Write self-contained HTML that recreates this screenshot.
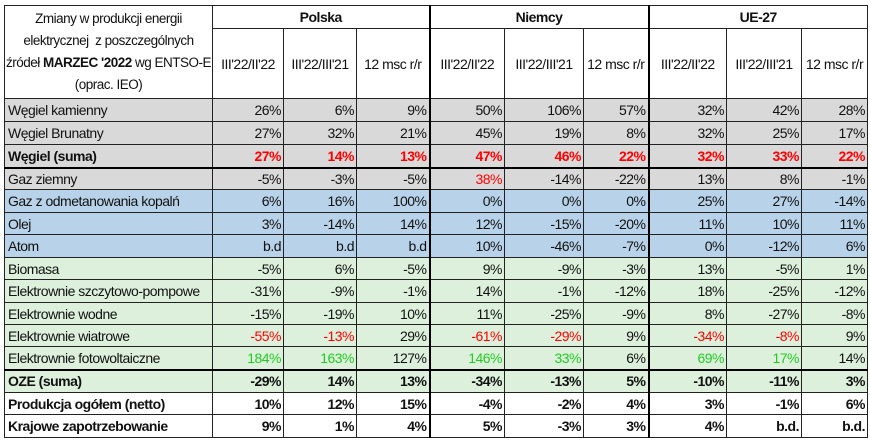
<!DOCTYPE html>
<html><head><meta charset="utf-8"><style>
html,body{margin:0;padding:0;background:#fff;width:870px;height:440px;overflow:hidden}
table{position:absolute;left:4px;top:5px;border-collapse:collapse;table-layout:fixed;font-family:"Liberation Sans",sans-serif;font-size:14px;color:#111}
td{border:1px solid #222;padding:0 2px;white-space:nowrap;overflow:hidden;text-align:right;letter-spacing:-0.5px;line-height:16px}
td.l{text-align:left;padding-left:3px}
.h td{text-align:center}
.g td{background:#d9d9d9}.b td{background:#b8d3e9}.e td{background:#ddf0dc}
.bold td{font-weight:bold}
.r{color:#f00}.gr{color:#22cc22}
.tk{border-left:2px solid #000}
.tb td{border-bottom:2px solid #000}
</style></head><body>
<table>
<colgroup><col style="width:208px"><col style="width:71px"><col style="width:73px"><col style="width:73px"><col style="width:75px"><col style="width:79px"><col style="width:65px"><col style="width:78px"><col style="width:75px"><col style="width:66px"></colgroup>
<tr class="h" style="height:23px"><td rowspan="2" style="text-align:center;line-height:22px;font-size:13.5px;white-space:nowrap;letter-spacing:-0.5px;padding:0">Zmiany w produkcji energii<br>elektrycznej&nbsp; z poszczególnych<br>źródeł <b>MARZEC '2022</b> wg ENTSO-E<br>(oprac. IEO)</td><td colspan="3" style="font-weight:bold">Polska</td><td colspan="3" class="tk" style="font-weight:bold">Niemcy</td><td colspan="3" class="tk" style="font-weight:bold">UE-27</td></tr>
<tr class="h" style="height:70px"><td>III'22/II'22</td><td>III'22/III'21</td><td>12 msc r/r</td><td class="tk">III'22/II'22</td><td>III'22/III'21</td><td>12 msc r/r</td><td class="tk">III'22/II'22</td><td>III'22/III'21</td><td>12 msc r/r</td></tr>
<tr class="g" style="height:23px"><td class="l">Węgiel kamienny</td><td>26%</td><td>6%</td><td>9%</td><td class="tk">50%</td><td>106%</td><td>57%</td><td class="tk">32%</td><td>42%</td><td>28%</td></tr>
<tr class="g" style="height:23px"><td class="l">Węgiel Brunatny</td><td>27%</td><td>32%</td><td>21%</td><td class="tk">45%</td><td>19%</td><td>8%</td><td class="tk">32%</td><td>25%</td><td>17%</td></tr>
<tr class="g bold tb" style="height:23px"><td class="l">Węgiel (suma)</td><td class="r">27%</td><td class="r">14%</td><td class="r">13%</td><td class="tk r">47%</td><td class="r">46%</td><td class="r">22%</td><td class="tk r">32%</td><td class="r">33%</td><td class="r">22%</td></tr>
<tr class="g" style="height:22px"><td class="l">Gaz ziemny</td><td>-5%</td><td>-3%</td><td>-5%</td><td class="tk r">38%</td><td>-14%</td><td>-22%</td><td class="tk">13%</td><td>8%</td><td>-1%</td></tr>
<tr class="b" style="height:23px"><td class="l">Gaz z odmetanowania kopalń</td><td>6%</td><td>16%</td><td>100%</td><td class="tk">0%</td><td>0%</td><td>0%</td><td class="tk">25%</td><td>27%</td><td>-14%</td></tr>
<tr class="b" style="height:22px"><td class="l">Olej</td><td>3%</td><td>-14%</td><td>14%</td><td class="tk">12%</td><td>-15%</td><td>-20%</td><td class="tk">11%</td><td>10%</td><td>11%</td></tr>
<tr class="b" style="height:23px"><td class="l">Atom</td><td>b.d</td><td>b.d</td><td>b.d</td><td class="tk">10%</td><td>-46%</td><td>-7%</td><td class="tk">0%</td><td>-12%</td><td>6%</td></tr>
<tr class="e" style="height:22px"><td class="l">Biomasa</td><td>-5%</td><td>6%</td><td>-5%</td><td class="tk">9%</td><td>-9%</td><td>-3%</td><td class="tk">13%</td><td>-5%</td><td>1%</td></tr>
<tr class="e" style="height:23px"><td class="l">Elektrownie szczytowo-pompowe</td><td>-31%</td><td>-9%</td><td>-1%</td><td class="tk">14%</td><td>-1%</td><td>-12%</td><td class="tk">18%</td><td>-25%</td><td>-12%</td></tr>
<tr class="e" style="height:22px"><td class="l">Elektrownie wodne</td><td>-15%</td><td>-19%</td><td>10%</td><td class="tk">11%</td><td>-25%</td><td>-9%</td><td class="tk">8%</td><td>-27%</td><td>-8%</td></tr>
<tr class="e" style="height:22px"><td class="l">Elektrownie wiatrowe</td><td class="r">-55%</td><td class="r">-13%</td><td>29%</td><td class="tk r">-61%</td><td class="r">-29%</td><td>9%</td><td class="tk r">-34%</td><td class="r">-8%</td><td>9%</td></tr>
<tr class="e tb" style="height:23px"><td class="l">Elektrownie fotowoltaiczne</td><td class="gr">184%</td><td class="gr">163%</td><td>127%</td><td class="tk gr">146%</td><td class="gr">33%</td><td>6%</td><td class="tk gr">69%</td><td class="gr">17%</td><td>14%</td></tr>
<tr class="e bold" style="height:23px"><td class="l">OZE (suma)</td><td>-29%</td><td>14%</td><td>13%</td><td class="tk">-34%</td><td>-13%</td><td>5%</td><td class="tk">-10%</td><td>-11%</td><td>3%</td></tr>
<tr class="bold" style="height:22px"><td class="l">Produkcja ogółem (netto)</td><td>10%</td><td>12%</td><td>15%</td><td class="tk">-4%</td><td>-2%</td><td>4%</td><td class="tk">3%</td><td>-1%</td><td>6%</td></tr>
<tr class="bold" style="height:23px"><td class="l">Krajowe zapotrzebowanie</td><td>9%</td><td>1%</td><td>4%</td><td class="tk">5%</td><td>-3%</td><td>3%</td><td class="tk">4%</td><td>b.d.</td><td>b.d.</td></tr>
</table>
</body></html>
